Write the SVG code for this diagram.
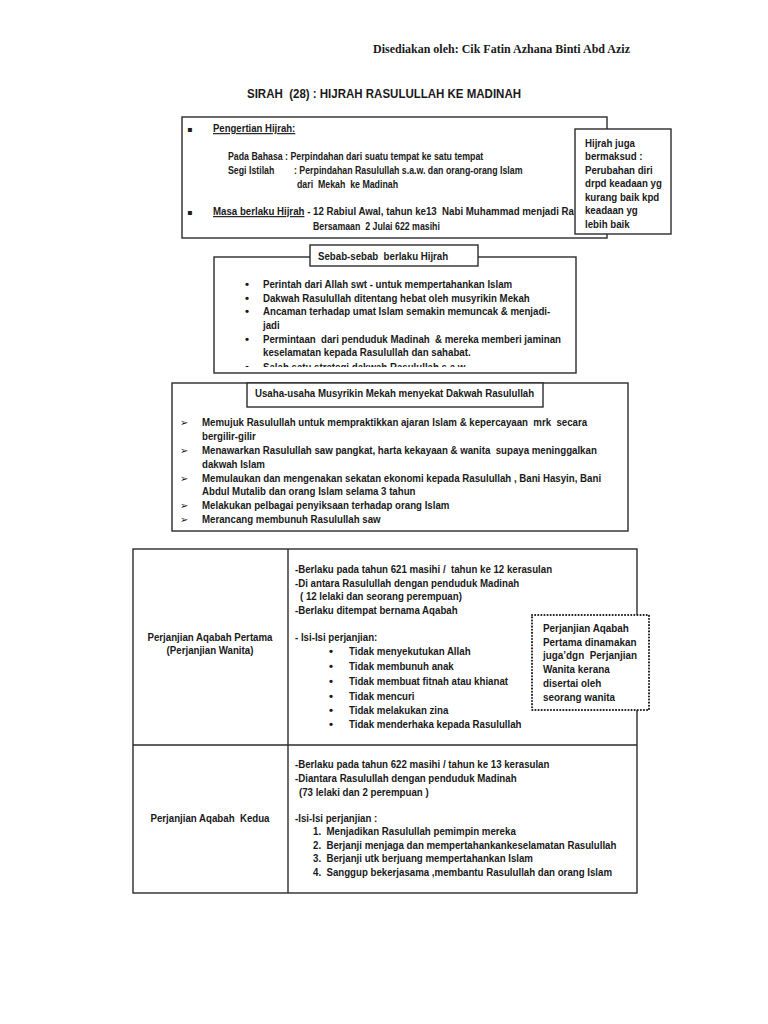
<svg xmlns="http://www.w3.org/2000/svg" width="768" height="1024" viewBox="0 0 768 1024">
<style>
.t{font-family:"Liberation Sans",Arial,sans-serif;font-weight:bold;font-size:11.5px;fill:#1a1a1a}
.s{font-family:"Liberation Serif","Times New Roman",serif;font-weight:bold;font-size:13px;fill:#1a1a1a}
.h{font-family:"Liberation Sans",Arial,sans-serif;font-weight:bold;font-size:13px;fill:#1a1a1a}
.sym{font-family:"DejaVu Sans",sans-serif;font-size:8px;fill:#1a1a1a}
.arr{font-family:"DejaVu Sans",sans-serif;font-size:10px;fill:#1a1a1a}
.b{fill:#fff;stroke:#2b2b2b;stroke-width:1.4}
.ln{stroke:#2b2b2b;stroke-width:1.4;fill:none}
.u{text-decoration:underline}
.dot{fill:#fff;stroke:#1a1a1a;stroke-width:2;stroke-dasharray:0.1 3;stroke-linecap:round}
</style>
<defs>
<clipPath id="sebabClip"><rect x="214" y="257" width="362" height="110"/></clipPath>
<clipPath id="masaClip"><rect x="180" y="190" width="394" height="40"/></clipPath>
</defs>
<rect width="768" height="1024" fill="#fff"/>

<g id="header">
<text class="s" x="373" y="53" textLength="257" lengthAdjust="spacingAndGlyphs">Disediakan oleh: Cik Fatin Azhana Binti Abd Aziz</text>
<text class="h" x="247" y="98" textLength="274" lengthAdjust="spacingAndGlyphs" xml:space="preserve">SIRAH  (28) : HIJRAH RASULULLAH KE MADINAH</text>
</g>

<g id="pengertian">
<rect class="b" x="182" y="117" width="425" height="121"/>
<text class="sym" x="187" y="132">▪</text>
<text class="sym" x="187" y="215">▪</text>
<text class="t u" x="213" y="132" transform="matrix(0.832,0,0,1,35.78,0)">Pengertian Hijrah:</text>
<text class="t" x="228" y="160" transform="matrix(0.765,0,0,1,53.58,0)">Pada Bahasa : Perpindahan dari suatu tempat ke satu tempat</text>
<text class="t" x="228" y="174" transform="matrix(0.765,0,0,1,53.58,0)">Segi Istilah</text>
<text class="t" x="294" y="174" transform="matrix(0.765,0,0,1,69.09,0)">: Perpindahan Rasulullah s.a.w. dan orang-orang Islam</text>
<text class="t" x="297" y="188" transform="matrix(0.765,0,0,1,69.8,0)" xml:space="preserve">dari  Mekah  ke Madinah</text>
<text class="t" x="313" y="230" transform="matrix(0.765,0,0,1,73.56,0)" xml:space="preserve">Bersamaan  2 Julai 622 masihi</text>
<g clip-path="url(#masaClip)">
<text class="t" x="213" y="215" transform="matrix(0.842,0,0,1,33.65,0)" xml:space="preserve"><tspan class="u">Masa berlaku Hijrah</tspan> - 12 Rabiul Awal, tahun ke13  Nabi Muhammad menjadi Rasul</text>
</g>
</g>

<g id="maksud">
<rect class="b" x="575" y="129" width="96" height="105"/>
<g transform="matrix(0.842,0,0,1,92.43,0)">
<text class="t" x="585" y="147">Hijrah juga</text>
<text class="t" x="585" y="160">bermaksud :</text>
<text class="t" x="585" y="174">Perubahan diri</text>
<text class="t" x="585" y="187">drpd keadaan yg</text>
<text class="t" x="585" y="201">kurang baik kpd</text>
<text class="t" x="585" y="214">keadaan yg</text>
<text class="t" x="585" y="228">lebih baik</text>
</g>
</g>

<g id="sebab">
<rect class="b" x="214" y="257" width="362" height="116"/>
<rect class="b" x="310" y="245" width="168" height="21"/>
<text class="t" x="318" y="260" transform="matrix(0.842,0,0,1,50.24,0)" xml:space="preserve">Sebab-sebab  berlaku Hijrah</text>
<g class="t">
<text x="245" y="288">•</text>
<text x="245" y="302">•</text>
<text x="245" y="315">•</text>
<text x="245" y="343">•</text>
</g>
<g transform="matrix(0.842,0,0,1,41.55,0)">
<text class="t" x="263" y="288">Perintah dari Allah swt - untuk mempertahankan Islam</text>
<text class="t" x="263" y="302">Dakwah Rasulullah ditentang hebat oleh musyrikin Mekah</text>
<text class="t" x="263" y="315">Ancaman terhadap umat Islam semakin memuncak &amp; menjadi-</text>
<text class="t" x="263" y="329">jadi</text>
<text class="t" x="263" y="343" xml:space="preserve">Permintaan  dari penduduk Madinah  &amp; mereka memberi jaminan</text>
<text class="t" x="263" y="356">keselamatan kepada Rasulullah dan sahabat.</text>
</g>
<g clip-path="url(#sebabClip)">
<text class="t" x="245" y="371">•</text>
<text class="t" x="263" y="371" transform="matrix(0.842,0,0,1,41.55,0)">Salah satu strategi dakwah Rasulullah s.a.w.</text>
</g>
</g>

<g id="usaha">
<rect class="b" x="172" y="383" width="456" height="148"/>
<rect class="b" x="247" y="383" width="296" height="24"/>
<text class="t" x="255" y="397" transform="matrix(0.842,0,0,1,40.29,0)">Usaha-usaha Musyrikin Mekah menyekat Dakwah Rasulullah</text>
<g class="arr">
<text x="180" y="426">➢</text>
<text x="180" y="454">➢</text>
<text x="180" y="482">➢</text>
<text x="180" y="509">➢</text>
<text x="180" y="523">➢</text>
</g>
<g transform="matrix(0.842,0,0,1,31.92,0)">
<text class="t" x="202" y="426" xml:space="preserve">Memujuk Rasulullah untuk mempraktikkan ajaran Islam &amp; kepercayaan  mrk  secara</text>
<text class="t" x="202" y="440">bergilir-gilir</text>
<text class="t" x="202" y="454" xml:space="preserve">Menawarkan Rasulullah saw pangkat, harta kekayaan &amp; wanita  supaya meninggalkan</text>
<text class="t" x="202" y="468">dakwah Islam</text>
<text class="t" x="202" y="482">Memulaukan dan mengenakan sekatan ekonomi kepada Rasulullah , Bani Hasyin, Bani</text>
<text class="t" x="202" y="495">Abdul Mutalib dan orang Islam selama 3 tahun</text>
<text class="t" x="202" y="509">Melakukan pelbagai penyiksaan terhadap orang Islam</text>
<text class="t" x="202" y="523">Merancang membunuh Rasulullah saw</text>
</g>
</g>

<g id="table">
<rect class="b" x="133" y="549" width="504" height="344"/>
<line class="ln" x1="288" y1="549" x2="288" y2="893"/>
<line class="ln" x1="133" y1="745" x2="637" y2="745"/>
</g>

<g id="aqabah1">
<g transform="matrix(0.842,0,0,1,33.18,0)">
<text class="t" x="210" y="641" text-anchor="middle">Perjanjian Aqabah Pertama</text>
<text class="t" x="210" y="654" text-anchor="middle">(Perjanjian Wanita)</text>
</g>
<g transform="matrix(0.842,0,0,1,46.61,0)">
<text class="t" x="295" y="573" xml:space="preserve">-Berlaku pada tahun 621 masihi /  tahun ke 12 kerasulan</text>
<text class="t" x="295" y="587">-Di antara Rasulullah dengan penduduk Madinah</text>
<text class="t" x="300.94" y="600">( 12 lelaki dan seorang perempuan)</text>
<text class="t" x="295" y="614">-Berlaku ditempat bernama Aqabah</text>
<text class="t" x="295" y="641">- Isi-Isi perjanjian:</text>
<text class="t" x="359.13" y="655">Tidak menyekutukan Allah</text>
<text class="t" x="359.13" y="670">Tidak membunuh anak</text>
<text class="t" x="359.13" y="685">Tidak membuat fitnah atau khianat</text>
<text class="t" x="359.13" y="700">Tidak mencuri</text>
<text class="t" x="359.13" y="714">Tidak melakukan zina</text>
<text class="t" x="359.13" y="728">Tidak menderhaka kepada Rasulullah</text>
</g>
<g class="t">
<text x="329" y="655">•</text>
<text x="329" y="670">•</text>
<text x="329" y="685">•</text>
<text x="329" y="700">•</text>
<text x="329" y="714">•</text>
<text x="329" y="728">•</text>
</g>
</g>

<g id="nota-wanita">
<rect class="dot" x="532" y="615" width="117" height="95"/>
<g transform="matrix(0.861,0,0,1,75.48,0)">
<text class="t" x="543" y="632">Perjanjian Aqabah</text>
<text class="t" x="543" y="646">Pertama dinamakan</text>
<text class="t" x="543" y="659" xml:space="preserve">juga’dgn  Perjanjian</text>
<text class="t" x="543" y="673">Wanita kerana</text>
<text class="t" x="543" y="687">disertai oleh</text>
<text class="t" x="543" y="701">seorang wanita</text>
</g>
</g>

<g id="aqabah2">
<text class="t" x="210" y="822" text-anchor="middle" transform="matrix(0.842,0,0,1,33.18,0)" xml:space="preserve">Perjanjian Aqabah  Kedua</text>
<g transform="matrix(0.842,0,0,1,46.61,0)">
<text class="t" x="295" y="768">-Berlaku pada tahun 622 masihi / tahun ke 13 kerasulan</text>
<text class="t" x="295" y="782">-Diantara Rasulullah dengan penduduk Madinah</text>
<text class="t" x="299.75" y="796">(73 lelaki dan 2 perempuan )</text>
<text class="t" x="295" y="822">-Isi-Isi perjanjian :</text>
<text class="t" x="316.38" y="835" xml:space="preserve">1.  Menjadikan Rasulullah pemimpin mereka</text>
<text class="t" x="316.38" y="849" xml:space="preserve">2.  Berjanji menjaga dan mempertahankankeselamatan Rasulullah</text>
<text class="t" x="316.38" y="862" xml:space="preserve">3.  Berjanji utk berjuang mempertahankan Islam</text>
<text class="t" x="316.38" y="876" xml:space="preserve">4.  Sanggup bekerjasama ,membantu Rasulullah dan orang Islam</text>
</g>
</g>
</svg>
